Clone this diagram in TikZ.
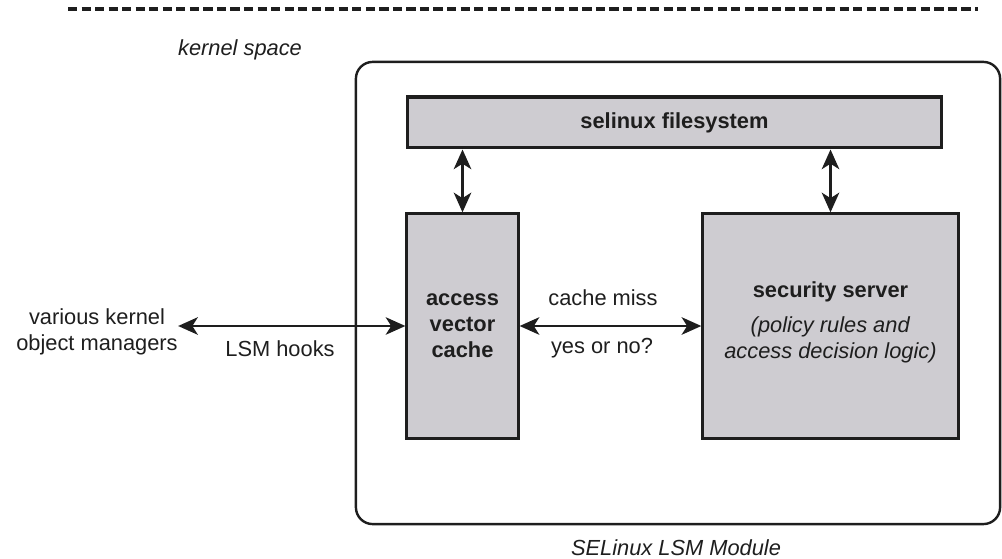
\documentclass[tikz,border=0pt]{standalone}
\usepackage{fontspec}
\setmainfont{Liberation Sans}
\usetikzlibrary{arrows.meta}

\definecolor{boxgray}{RGB}{206,204,209}
\definecolor{inkgray}{RGB}{30,30,30}

\begin{document}
\begin{tikzpicture}[
  x=0.0161cm, y=-0.0161cm,
  panel/.style={rectangle, draw=inkgray, line width=1.4pt, fill=boxgray, text=inkgray, font=\bfseries, align=center, inner sep=0pt},
  module/.style={rectangle, draw=inkgray, line width=1.1pt, rounded corners=0.27cm, inner sep=0pt},
  plain/.style={text=inkgray, align=center, inner sep=0pt},
  note/.style={plain, font=\itshape},
  dbl/.style={{Stealth[length=9pt,width=8pt,inset=2.5pt]}-{Stealth[length=9pt,width=8pt,inset=2.5pt]}, line width=1.2pt, draw=inkgray}
]
  \useasboundingbox (0,0) rectangle (1002,558);

  % top rule
  \draw[inkgray, line width=1.5pt, dash pattern=on 4.2pt off 2pt] (68,9) -- (978,9);

  % module frame
  \node[note] (kspace) at (240,50) {kernel space};
  \node[module, minimum width=10.37cm, minimum height=7.44cm] (lsm) at (678,293) {};
  \node[note] (lsmname) at (676,548) {SELinux LSM Module};

  % boxes
  \node[panel, minimum width=8.61cm, minimum height=0.82cm] (fs) at (674.5,122.5) {selinux filesystem};
  \node[panel, minimum width=1.79cm, minimum height=3.61cm] (avc) at (462.5,326) {access\\vector\\cache};
  \node[panel, minimum width=4.11cm, minimum height=3.61cm] (ss) at (830.5,326) {};
  \node[plain] (sstext) at (830.5,322) {\textbf{security server}\\[4pt] \textit{(policy rules and}\\ \textit{access decision logic)}};

  % labels
  \node[plain] (objmgr) at (97,332) {various kernel\\object managers};
  \node[plain] (hooks) at (280,349) {LSM hooks};
  \node[plain] (miss) at (603,298) {cache miss};
  \node[plain] (answer) at (602,348) {yes or no?};

  % connectors
  \draw[dbl] (objmgr.east |- avc.west) -- (avc.west);
  \draw[dbl] (avc.east) -- (ss.west);
  \draw[dbl] (avc.north |- fs.south) -- (avc.north);
  \draw[dbl] (ss.north |- fs.south) -- (ss.north);
\end{tikzpicture}
\end{document}
